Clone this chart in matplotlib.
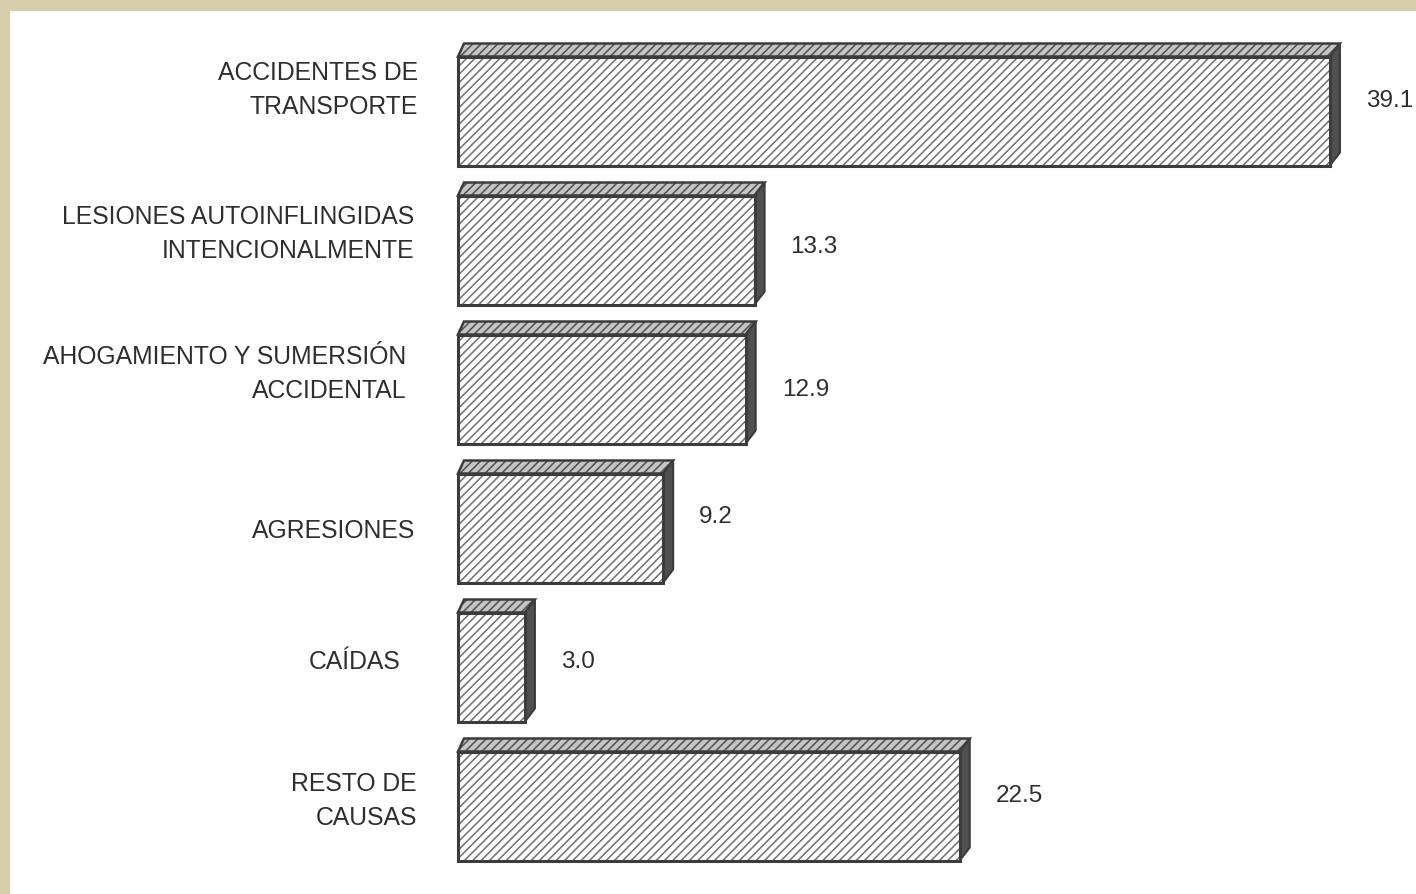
import numpy as np
import matplotlib
matplotlib.use('Agg')
import matplotlib.pyplot as plt
from matplotlib.patches import Polygon, Rectangle

plt.rcParams['font.family'] = ['Liberation Sans', 'DejaVu Sans']
plt.rcParams['hatch.linewidth'] = 1.1

causas = ['ACCIDENTES DE\nTRANSPORTE',
          'LESIONES AUTOINFLINGIDAS\nINTENCIONALMENTE',
          'AHOGAMIENTO Y SUMERSIÓN\nACCIDENTAL',
          'AGRESIONES',
          'CAÍDAS',
          'RESTO DE\nCAUSAS']
valores = [39.1, 13.3, 12.9, 9.2, 3.0, 22.5]
etiquetas = ['39.1', '13.3', '12.9', '9.2', '3.0', '22.5']

# layout (pixels of the 1416x895 picture)
W, H = 1416, 895
x0 = 458          # left edge of bars
px = 22.3         # pixels per unit
y_first, y_step = 112, 139
bar_h = 109 / y_step
dx = 10 / px      # depth of the 3D effect
dy = 13 / y_step
lab_x = [418, 414, 406, 415, 401, 417]
lab_dy = [-22, -17, -16, 2, -6, -6]
val_dy = [-11, -4, 0, -12, -6, -11]

fig = plt.figure(figsize=(W / 100, H / 100), dpi=100)
fig.patch.set_facecolor('#d8cdaa')
ax = fig.add_axes([10 / W, 0, 1 - 10 / W, 1 - 12 / H])
ax.set_facecolor('white')
ax.set_xlim(-(x0 - 10) / px, (W - x0) / px)
ax.set_ylim((H - y_first) / y_step, (12 - y_first) / y_step)
ax.set_xticks([])
ax.set_yticks([])
for s in ax.spines.values():
    s.set_visible(False)

edge = '#3c3c3c'
for i, (v, lab) in enumerate(zip(valores, causas)):
    top = i - bar_h / 2
    bot = i + bar_h / 2
    # top face
    pts_top = [(0, top), (v, top), (v + dx, top - dy), (dx * 0.6, top - dy)]
    ax.add_patch(Polygon(pts_top, closed=True, facecolor='#c4c4c4',
                         edgecolor='#505050', hatch='////', lw=0))
    ax.add_patch(Polygon(pts_top, closed=True, fill=False, edgecolor=edge, lw=1.8))
    # side face
    pts_side = [(v, top), (v + dx, top - dy), (v + dx, bot - dy), (v, bot)]
    ax.add_patch(Polygon(pts_side, closed=True, facecolor='#505050',
                         edgecolor=edge, lw=1.5))
    # front face
    ax.add_patch(Rectangle((0, top), v, bar_h, facecolor='white',
                           edgecolor='#707070', hatch='////', lw=0))
    ax.add_patch(Rectangle((0, top), v, bar_h, fill=False,
                           edgecolor=edge, lw=2.2))
    # category label
    ax.text(-(x0 - lab_x[i]) / px, i + lab_dy[i] / y_step, lab,
            ha='right', va='center', fontsize=17.8, color='#2e2e2e',
            linespacing=1.5)
    # value label
    ax.text(v + 36 / px, i + val_dy[i] / y_step, etiquetas[i],
            ha='left', va='center', fontsize=17.5, color='#2e2e2e')

fig.savefig('out.png', dpi=100, facecolor=fig.get_facecolor())
